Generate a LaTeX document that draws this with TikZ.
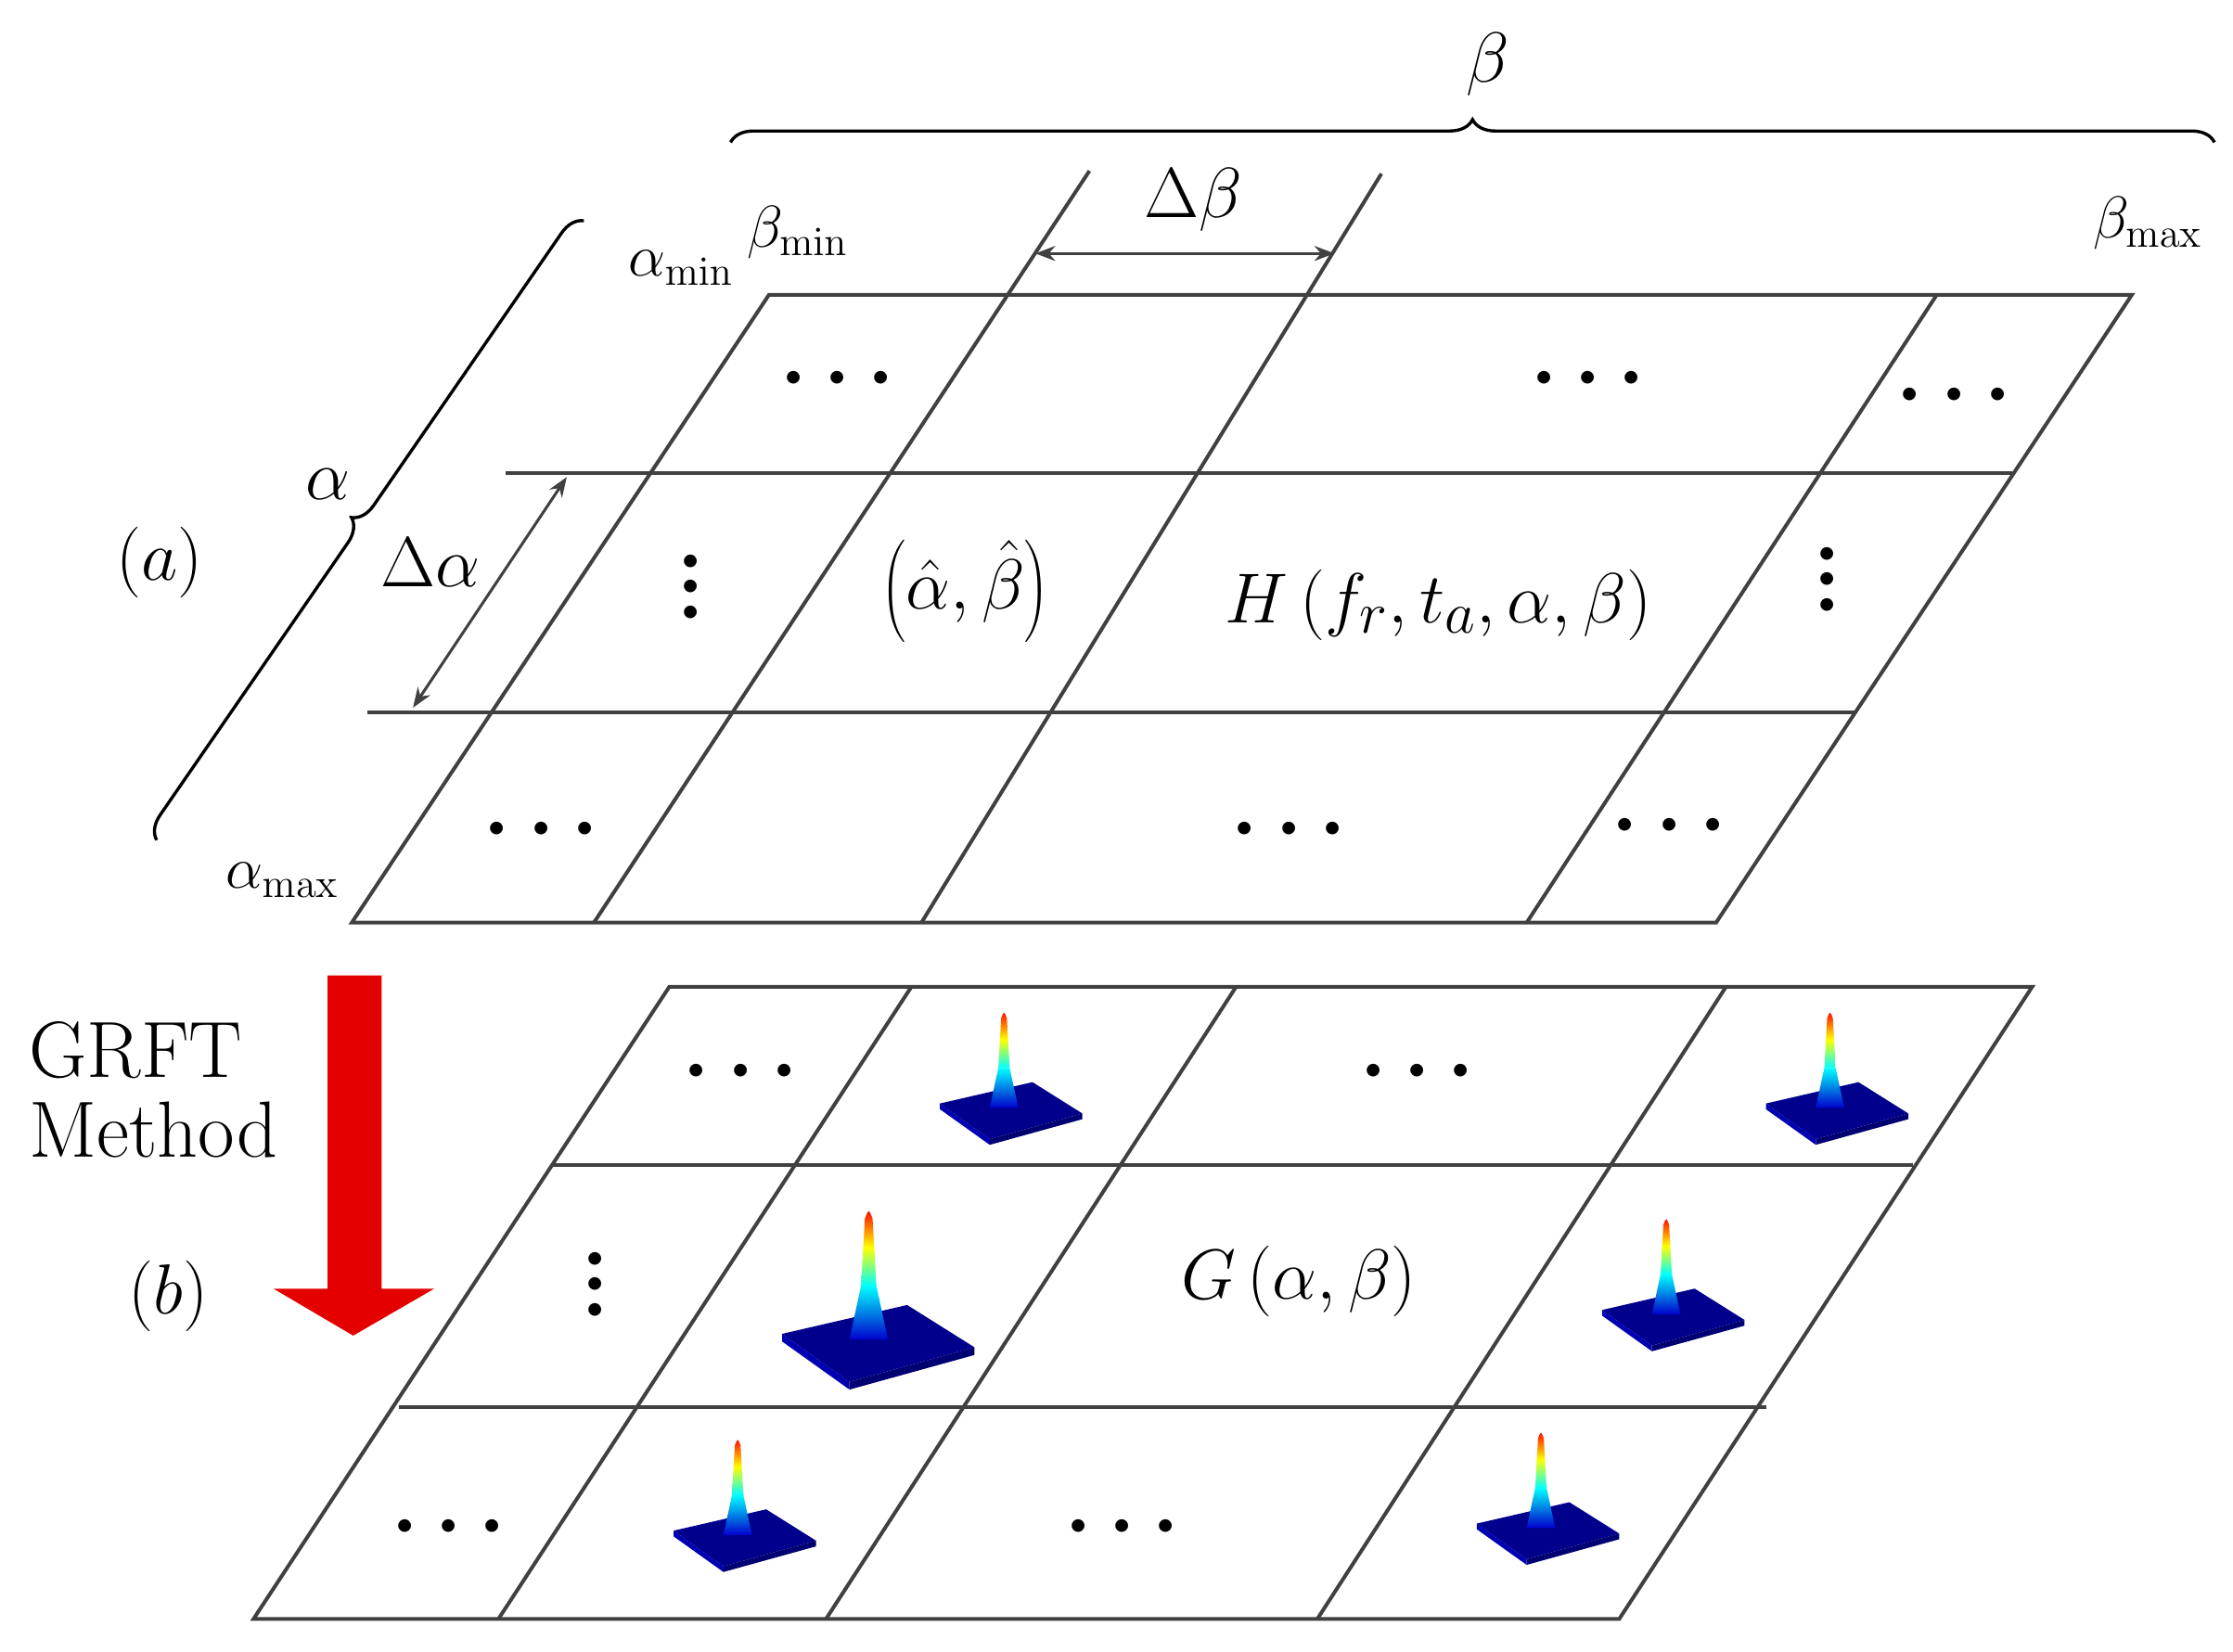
\documentclass[tikz,border=0pt]{standalone}
\usetikzlibrary{decorations.pathreplacing,arrows.meta}
\newcommand{\hdts}{\textbullet\kern1pt\textbullet\kern1pt\textbullet}
\begin{document}
\begin{tikzpicture}[x=0.5pt,y=-0.5pt,
 grid/.style={draw=black!75,line width=1.3pt},
 lbl/.style={font=\fontsize{28}{32}\selectfont,inner sep=0pt},
 sub/.style={font=\fontsize{22}{26}\selectfont,inner sep=0pt},
 dts/.style={font=\fontsize{20}{20}\selectfont,inner sep=0pt},
 vdt/.style={font=\fontsize{20}{9}\selectfont,inner sep=0pt,align=center},
 dim/.style={draw=black!75,line width=1pt,{Stealth[length=7pt]}-{Stealth[length=7pt]}},
 br/.style={draw,line width=1.1pt,decorate,decoration={brace,amplitude=8pt}}]
\useasboundingbox (0,0) rectangle (1568,1160);
% grid a
\draw[grid] (540,207)--(1497,207)--(1205,648)--(247,648)--cycle;
\draw[grid] (355,332)--(1413,332);
\draw[grid] (258,500)--(1302,500);
\draw[grid] (765,120)--(417,648);
\draw[grid] (970,122)--(647,648);
\draw[grid] (1360,207)--(1072,648);
\coordinate (db1) at (727,178); \coordinate (db2) at (937,178);
\draw[dim] (db1)--(db2);
\node[lbl] (dbl) at (838,140) {$\Delta\beta$};
\coordinate (da1) at (398,335); \coordinate (da2) at (290,497);
\draw[dim] (da1)--(da2);
\node[lbl] (dal) at (302,395) {$\Delta\alpha$};
\coordinate (b1) at (513,100); \coordinate (b2) at (1555,100);
\draw[br] (b1)--(b2);
\node[lbl] (bl) at (1045,45) {$\beta$};
\coordinate (a1) at (110,590); \coordinate (a2) at (410,155);
\draw[br] (a1)--(a2);
\node[lbl] (al) at (230,340) {$\alpha$};
\node[sub] (amin) at (478,188) {$\alpha_{\min}$};
\node[sub] (bmin) at (560,163) {$\beta_{\min}$};
\node[sub] (bmax) at (1508,157) {$\beta_{\max}$};
\node[sub] (amax) at (198,618) {$\alpha_{\max}$};
\node[lbl] (la) at (112,395) {$(a)$};
\node[dts] (d1) at (588,268) {\hdts};
\node[dts] (d2) at (1115,268) {\hdts};
\node[dts] (d3) at (1372,280) {\hdts};
\node[vdt] (d4) at (485,415) {\textbullet\\\textbullet\\\textbullet};
\node[vdt] (d5) at (1283,410) {\textbullet\\\textbullet\\\textbullet};
\node[dts] (d6) at (380,585) {\hdts};
\node[dts] (d7) at (905,585) {\hdts};
\node[dts] (d8) at (1172,582) {\hdts};
\node[lbl] (ab) at (678,415) {$\left(\hat\alpha,\hat\beta\right)$};
\node[lbl] (H) at (1010,425) {$H\left(f_r,t_a,\alpha,\beta\right)$};
% grid b
\draw[grid] (470,693)--(1427,693)--(1137,1137)--(178,1137)--cycle;
\draw[grid] (387,818)--(1343,818);
\draw[grid] (280,988)--(1240,988);
\draw[grid] (640,693)--(350,1137);
\draw[grid] (868,693)--(580,1137);
\draw[grid] (1212,693)--(925,1137);
\node[dts] (e1) at (520,755) {\hdts};
\node[dts] (e2) at (995,755) {\hdts};
\node[vdt] (e3) at (418,905) {\textbullet\\\textbullet\\\textbullet};
\node[dts] (e4) at (315,1075) {\hdts};
\node[dts] (e5) at (788,1075) {\hdts};
\node[lbl] (G) at (912,900) {$G\left(\alpha,\beta\right)$};
\node[lbl] (lb) at (118,910) {$(b)$};
\node[lbl,align=left,anchor=west] (gr) at (20,765) {GRFT\\[-4pt]Method};
% red arrow
\fill[red!90!black] (230,685)--(268,685)--(268,905)--(305,905)--(248,938)--(192,905)--(230,905)--cycle;
% peaks
\foreach \cx/\cy/\s in {705/770/1, 610/930/1.35, 1285/770/1, 1170/915/1, 518/1070/1, 1082/1065/1}{
 \begin{scope}[shift={(\cx,\cy)},scale=\s]
 \fill[blue!55!black] (-45,5)--(20,-10)--(55,12)--(-10,30)--cycle;
 \fill[blue!70!black] (-45,5)--(-10,30)--(-10,34)--(-45,9)--cycle;
 \fill[blue!45!black] (-10,30)--(55,12)--(55,16)--(-10,34)--cycle;
 \shade[top color=red,bottom color=cyan,middle color=yellow] (-2,-55) .. controls (0,-60) .. (2,-55)--(4,-20)--(-4,-20)--cycle;
 \shade[top color=cyan,bottom color=blue!80!black] (-4,-20)--(4,-20)--(10,8)--(-10,8)--cycle;
 \end{scope}}
\end{tikzpicture}
\end{document}
